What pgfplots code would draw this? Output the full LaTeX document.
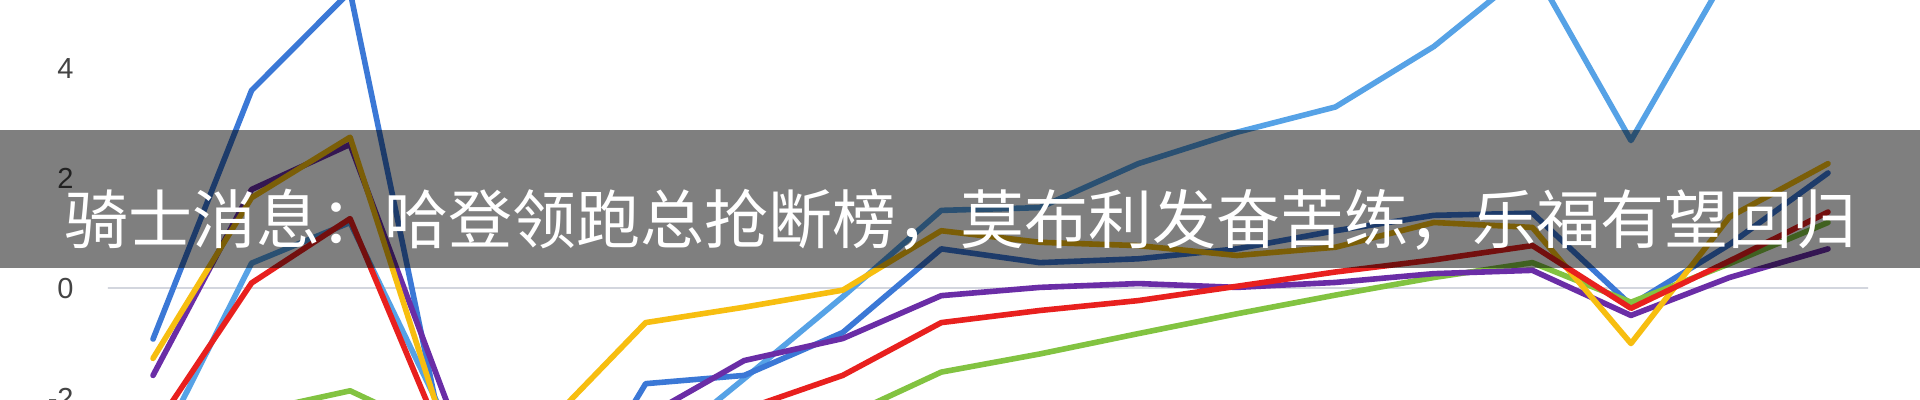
\documentclass[border=0pt]{standalone}
\usepackage{fontspec}
\setmainfont{Liberation Sans}
\newfontfamily\cjk{Noto Sans CJK SC}
\usepackage{pgfplots}
\pgfplotsset{compat=1.18}
\definecolor{cBa}{HTML}{3B78D6}
\definecolor{cBb}{HTML}{56A2E6}
\definecolor{cY}{HTML}{F7BE10}
\definecolor{cP}{HTML}{6A2DA6}
\definecolor{cR}{HTML}{E8201E}
\definecolor{cG}{HTML}{82C341}
\definecolor{zeroline}{HTML}{D3D6DE}
\definecolor{labelgray}{HTML}{444444}
\begin{document}
\begin{tikzpicture}
\fill[white] (0,0) rectangle (960pt,200pt);
\useasboundingbox (0,0) rectangle (960pt,200pt);
\begin{axis}[
  at={(54pt,0pt)}, anchor=south west,
  scale only axis, width=880pt, height=200pt,
  xmin=-0.457, xmax=17.406, ymin=-2.027, ymax=5.245,
  axis line style={draw=none}, tick style={draw=none},
  xtick=\empty, ytick={-2,0,2,4},
  /pgf/number format/assume math mode=true,
  yticklabel style={font=\fontsize{14.5}{16}\selectfont, text=labelgray, anchor=east, inner sep=0pt, xshift=-17pt},
  every axis plot/.append style={no marks, line width=2.8pt, line join=round, line cap=round},
]
\addplot[zeroline, line width=1pt] coordinates {(-0.457,0) (17.406,0)};
% light blue
\addplot[cBb] coordinates {(0,-3.1) (1,0.46) (2,1.2) (3,-2.5) (4,-3.3) (5,-3.1) (6,-1.64) (7,-0.15) (8,1.42) (9,1.47) (10,2.27) (11,2.84) (12,3.3) (13,4.4) (14,5.85) (15,2.69) (16,5.8) (17,6.6)};
% blue
\addplot[cBa] coordinates {(0,-0.92) (1,3.6) (2,5.4) (3,-3.2) (4,-4.7) (5,-1.73) (6,-1.58) (7,-0.8) (8,0.72) (9,0.47) (10,0.54) (11,0.72) (12,1.05) (13,1.33) (14,1.37) (15,-0.3) (16,0.8) (17,2.1)};
% green
\addplot[cG] coordinates {(0,-2.6) (1,-2.25) (2,-1.86) (3,-2.7) (4,-3.0) (5,-3.1) (6,-3.0) (7,-2.35) (8,-1.52) (9,-1.19) (10,-0.82) (11,-0.46) (12,-0.12) (13,0.2) (14,0.47) (15,-0.25) (16,0.45) (17,1.2)};
% purple
\addplot[cP] coordinates {(0,-1.58) (1,1.8) (2,2.62) (3,-2.15) (4,-2.8) (5,-2.33) (6,-1.31) (7,-0.91) (8,-0.13) (9,0.02) (10,0.09) (11,0.02) (12,0.11) (13,0.27) (14,0.33) (15,-0.49) (16,0.2) (17,0.72)};
% yellow
\addplot[cY] coordinates {(0,-1.27) (1,1.65) (2,2.75) (3,-2.8) (4,-2.47) (5,-0.62) (6,-0.34) (7,-0.03) (8,1.05) (9,0.84) (10,0.78) (11,0.6) (12,0.75) (13,1.2) (14,1.11) (15,-1.0) (16,1.3) (17,2.27)};
% red
\addplot[cR] coordinates {(0,-2.58) (1,0.1) (2,1.27) (3,-3.0) (4,-3.3) (5,-3.0) (6,-2.2) (7,-1.58) (8,-0.62) (9,-0.4) (10,-0.22) (11,0.04) (12,0.3) (13,0.52) (14,0.78) (15,-0.36) (16,0.5) (17,1.39)};
\end{axis}
\fill[black, opacity=0.5] (0,66pt) rectangle (960pt,135pt);
\node[anchor=base west, inner sep=0pt, text=white, font=\cjk\fontsize{32}{32}\selectfont] at (32pt,78pt) {骑士消息：哈登领跑总抢断榜，莫布利发奋苦练，乐福有望回归};
\end{tikzpicture}
\end{document}
